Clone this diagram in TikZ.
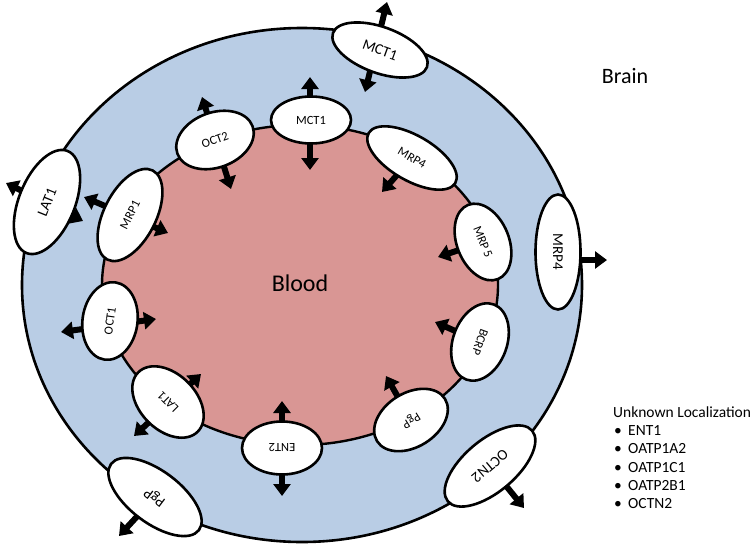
\documentclass[tikz,border=0pt]{standalone}
\usepackage{fontspec}
\setmainfont{Carlito}
\usetikzlibrary{shapes.geometric,arrows.meta}
\definecolor{brainblue}{RGB}{185,205,229}
\definecolor{bloodpink}{RGB}{217,150,148}
\pgfdeclarelayer{rings}
\pgfdeclarelayer{arrowlayer}
\pgfsetlayers{rings,arrowlayer,main}
\begin{document}
\begin{tikzpicture}[x=1pt,y=-1pt,
  tp/.style={ellipse, draw, line width=2.6pt, fill=white, inner sep=0pt},
  inr/.style={tp, font=\fontsize{12.5}{14}\selectfont},
  outr/.style={tp, font=\fontsize{15}{17}\selectfont},
  arr/.style={line width=6pt, -{Triangle[length=12pt,width=17pt]}},
  darr/.style={line width=6pt, {Triangle[length=12pt,width=17pt]}-{Triangle[length=12pt,width=17pt]}},
  leg/.style={anchor=base west, inner sep=0pt, font=\fontsize{15.5}{18}\selectfont},
]
\useasboundingbox (0,0) rectangle (755,544);

% compartments
\begin{pgfonlayer}{rings}
  \draw[line width=2.6pt, fill=brainblue] (302,285) ellipse [x radius=280, y radius=257];
  \draw[line width=2.4pt, fill=bloodpink] (300,285) ellipse [x radius=198, y radius=160];
\end{pgfonlayer}

\node[font=\fontsize{22}{26}\selectfont] (brain) at (625,76) {Brain};
\node[font=\fontsize{24}{28}\selectfont] (blood) at (300,283) {Blood};

% transporters
\node[outr, rotate=-20, minimum width=100, minimum height=46] (mctO) at (380,50) {MCT1};
\node[inr, minimum width=80, minimum height=47] (mctI) at (311,120) {MCT1};
\node[inr, rotate=-30, minimum width=100, minimum height=45] (mrpfI) at (412,158) {MRP4};
\node[inr, rotate=-68, minimum width=80, minimum height=52] (mrpv) at (483,242) {MRP 5};
\node[inr, rotate=-110, minimum width=80, minimum height=54] (bcrp) at (480,342) {BCRP};
\node[outr, rotate=-90, minimum width=115, minimum height=45] (mrpfO) at (558,252) {MRP4};
\node[outr, rotate=220, minimum width=110, minimum height=52] (octn) at (490,466) {OCTN2};
\node[inr, rotate=212, minimum width=80, minimum height=54] (pgpI) at (411,420) {PgP};
\node[inr, rotate=180, minimum width=80, minimum height=53] (ent) at (282,448) {ENT2};
\node[inr, rotate=135, minimum width=84, minimum height=56] (latI) at (168,402) {LAT1};
\node[outr, rotate=143, minimum width=110, minimum height=52] (pgpO) at (155,497) {PgP};
\node[inr, rotate=82, minimum width=78, minimum height=55] (octa) at (110,321) {OCT1};
\node[inr, rotate=63, minimum width=100, minimum height=52] (mrpa) at (130,215) {MRP1};
\node[outr, rotate=68, minimum width=110, minimum height=56] (latO) at (47,202) {LAT1};
\node[inr, rotate=20, minimum width=80, minimum height=55] (octb) at (215,140) {OCT2};

% arrow ends
\coordinate (mctOa) at (387,2);   \coordinate (mctOb) at (365,92);
\coordinate (mctIa) at (310,77);  \coordinate (mctIb) at (310,170);
\coordinate (mrpfIt) at (382,192);
\coordinate (mrpvt) at (438,257);
\coordinate (bcrpt) at (435,322);
\coordinate (mrpfOt) at (607,260);
\coordinate (octnt) at (524,508);
\coordinate (pgpIt) at (386,376);
\coordinate (enta) at (282,401);  \coordinate (entb) at (282,496);
\coordinate (latIa) at (201,374); \coordinate (latIb) at (134,436);
\coordinate (pgpOt) at (119,536);
\coordinate (octaa) at (61,332);  \coordinate (octab) at (156,319);
\coordinate (mrpaa) at (84,197);  \coordinate (mrpab) at (168,233);
\coordinate (latOa) at (6,183);   \coordinate (latOb) at (83,221);
\coordinate (octba) at (202,97);  \coordinate (octbb) at (231,189);

\begin{pgfonlayer}{arrowlayer}
  \draw[darr] (mctOa) -- (mctOb);
  \draw[darr] (mctIa) -- (mctIb);
  \draw[arr] (mrpfI.center) -- (mrpfIt);
  \draw[arr] (mrpv.center) -- (mrpvt);
  \draw[arr] (bcrp.center) -- (bcrpt);
  \draw[arr] (mrpfO.center |- mrpfOt) -- (mrpfOt);
  \draw[arr] (octn.center) -- (octnt);
  \draw[arr] (pgpI.center) -- (pgpIt);
  \draw[darr] (enta) -- (entb);
  \draw[darr] (latIa) -- (latIb);
  \draw[arr] (pgpO.center) -- (pgpOt);
  \draw[darr] (octaa) -- (octab);
  \draw[darr] (mrpaa) -- (mrpab);
  \draw[darr] (latOa) -- (latOb);
  \draw[darr] (octba) -- (octbb);
\end{pgfonlayer}

% legend
\node[leg] (lhead) at (613,417) {Unknown Localization};
\node[leg] (b1) at (614,435) {•}; \node[leg] (l1) at (628,435) {ENT1};
\node[leg] (b2) at (614,453) {•}; \node[leg] (l2) at (628,453) {OATP1A2};
\node[leg] (b3) at (614,472) {•}; \node[leg] (l3) at (628,472) {OATP1C1};
\node[leg] (b4) at (614,490) {•}; \node[leg] (l4) at (628,490) {OATP2B1};
\node[leg] (b5) at (614,508) {•}; \node[leg] (l5) at (628,508) {OCTN2};
\end{tikzpicture}
\end{document}
